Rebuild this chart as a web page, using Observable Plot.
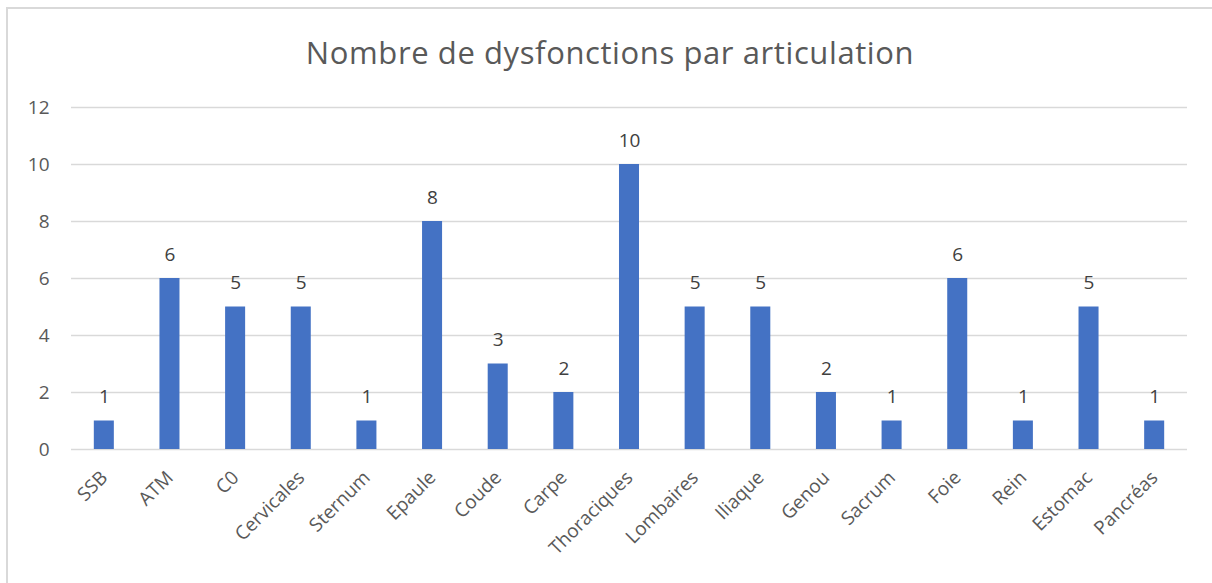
<!DOCTYPE html>
<html>
<head>
<meta charset="utf-8">
<script src="https://cdn.jsdelivr.net/npm/d3@7"></script>
<script src="https://cdn.jsdelivr.net/npm/@observablehq/plot@0.6"></script>
<style>
  html, body { margin: 0; padding: 0; background: #fff; }
  #wrap { position: relative; width: 1212px; height: 583px; overflow: hidden; font-family: "Open Sans", sans-serif; }
  #frame { position: absolute; left: 6px; top: 7px; width: 1300px; height: 700px; border: 2px solid #d9d9d9; box-sizing: border-box; }
  #title { position: absolute; left: 0; width: 1220px; top: 30px; text-align: center; font-size: 31px; letter-spacing: 0.6px; color: #595959; line-height: 44px; }
  #chart { position: absolute; left: 0; top: 0; }
</style>
</head>
<body>
<div id="wrap">
  <div id="frame"></div>
  <div id="chart"></div>
  <div id="title">Nombre de dysfonctions par articulation</div>
</div>
<script>
const categories = ["SSB","ATM","C0","Cervicales","Sternum","Epaule","Coude","Carpe","Thoraciques","Lombaires","Iliaque","Genou","Sacrum","Foie","Rein","Estomac","Pancréas"];
const values = [1,6,5,5,1,8,3,2,10,5,5,2,1,6,1,5,1];
const yTicks = [0,2,4,6,8,10,12];

const data = categories.map((c, i) => ({category: c, value: values[i]}));

const chart = Plot.plot({
  width: 1212,
  height: 583,
  marginLeft: 71,
  marginRight: 25,
  marginTop: 107,
  marginBottom: 134,
  style: {fontFamily: "Open Sans, sans-serif", background: "transparent", overflow: "visible"},
  x: {domain: categories, paddingInner: 0.695, paddingOuter: 0.3475, round: false, label: null},
  y: {domain: [0, 12], label: null},
  marks: [
    Plot.ruleY(yTicks, {stroke: "#d9d9d9", strokeWidth: 1.5}),
    Plot.barY(data, {x: "category", y: "value", fill: "#4472C4"}),
    Plot.text(data, {x: "category", y: "value", text: d => String(d.value), dy: -18, lineAnchor: "bottom", fill: "#404040", fontSize: 19}),
    Plot.axisY({ticks: yTicks, tickSize: 0, tickPadding: 22, fontSize: 19, color: "#595959", label: null}),
    Plot.axisX({tickSize: 0, tickPadding: 25, tickRotate: -45, fontSize: 19, color: "#595959", label: null})
  ]
});
document.getElementById("chart").appendChild(chart);
</script>
</body>
</html>
